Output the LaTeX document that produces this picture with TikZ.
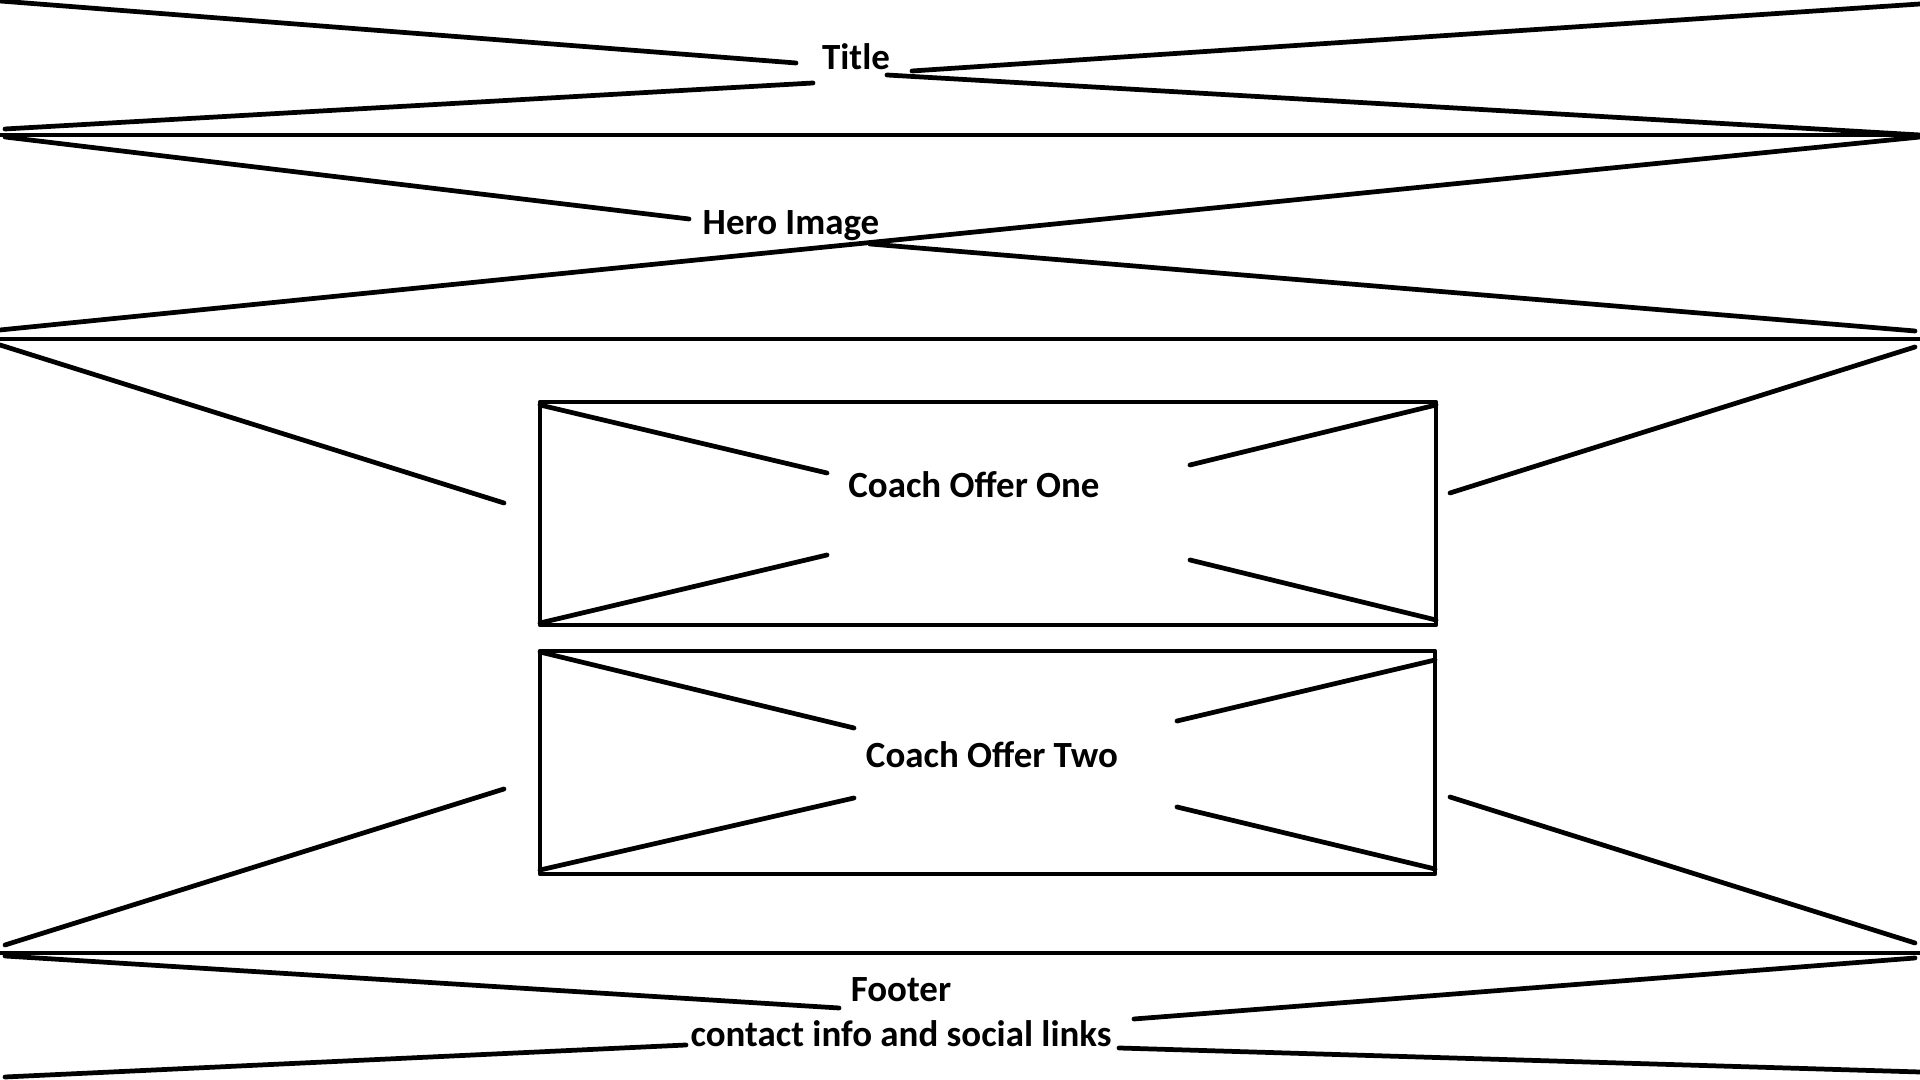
\documentclass[tikz,border=0pt]{standalone}
\usepackage{fontspec}
\setmainfont{Carlito}
\begin{document}
\begin{tikzpicture}[x=0.01cm,y=-0.01cm,
  wire/.style={line width=1.35pt,line cap=round,line join=round},
  lbl/.style={inner sep=0pt,anchor=base,font=\fontsize{10.5}{12.5}\selectfont\bfseries}]
\useasboundingbox[fill=white] (0,0) rectangle (1920,1080);
% labels
\node[lbl] (title) at (856,70) {Title};
\node[lbl] (hero) at (791,235) {Hero Image};
\node[lbl] (offer1) at (974,498) {Coach Offer One};
\node[lbl] (offer2) at (992,768) {Coach Offer Two};
\node[lbl] (footer) at (901,1002) {Footer};
\node[lbl] (contact) at (901,1047) {contact info and social links};
% header
\draw[wire] (0,1) -- (796,63);
\draw[wire] (5,129) -- (813,83);
\draw[wire] (912,71) -- (1920,4);
\draw[wire] (887,75) -- (1920,135);
\draw[wire] (0,135) -- (1920,135);
% hero
\draw[wire] (5,137) -- (689,219);
\draw[wire] (0,330) -- (1920,137);
\draw[wire] (870,244) -- (1915,331);
\draw[wire] (0,339) -- (1920,339);
% body
\draw[wire] (0,345) -- (504,503);
\draw[wire] (1450,493) -- (1915,347);
\draw[wire] (504,789) -- (5,945);
\draw[wire] (1450,797) -- (1915,943);
% box one
\draw[wire] (540,402) rectangle (1436,625);
\draw[wire] (540,405) -- (827,473);
\draw[wire] (540,623) -- (827,555);
\draw[wire] (1436,405) -- (1190,465);
\draw[wire] (1190,560) -- (1436,620);
% box two
\draw[wire] (540,651) rectangle (1435,874);
\draw[wire] (540,652) -- (854,728);
\draw[wire] (540,870) -- (854,798);
\draw[wire] (1435,660) -- (1177,721);
\draw[wire] (1177,807) -- (1435,869);
\draw[wire] (0,953) -- (1920,953);
% footer
\draw[wire] (5,956) -- (839,1008);
\draw[wire] (1915,958) -- (1134,1019);
\draw[wire] (5,1077) -- (686,1045);
\draw[wire] (1119,1048) -- (1920,1072);
\end{tikzpicture}
\end{document}
